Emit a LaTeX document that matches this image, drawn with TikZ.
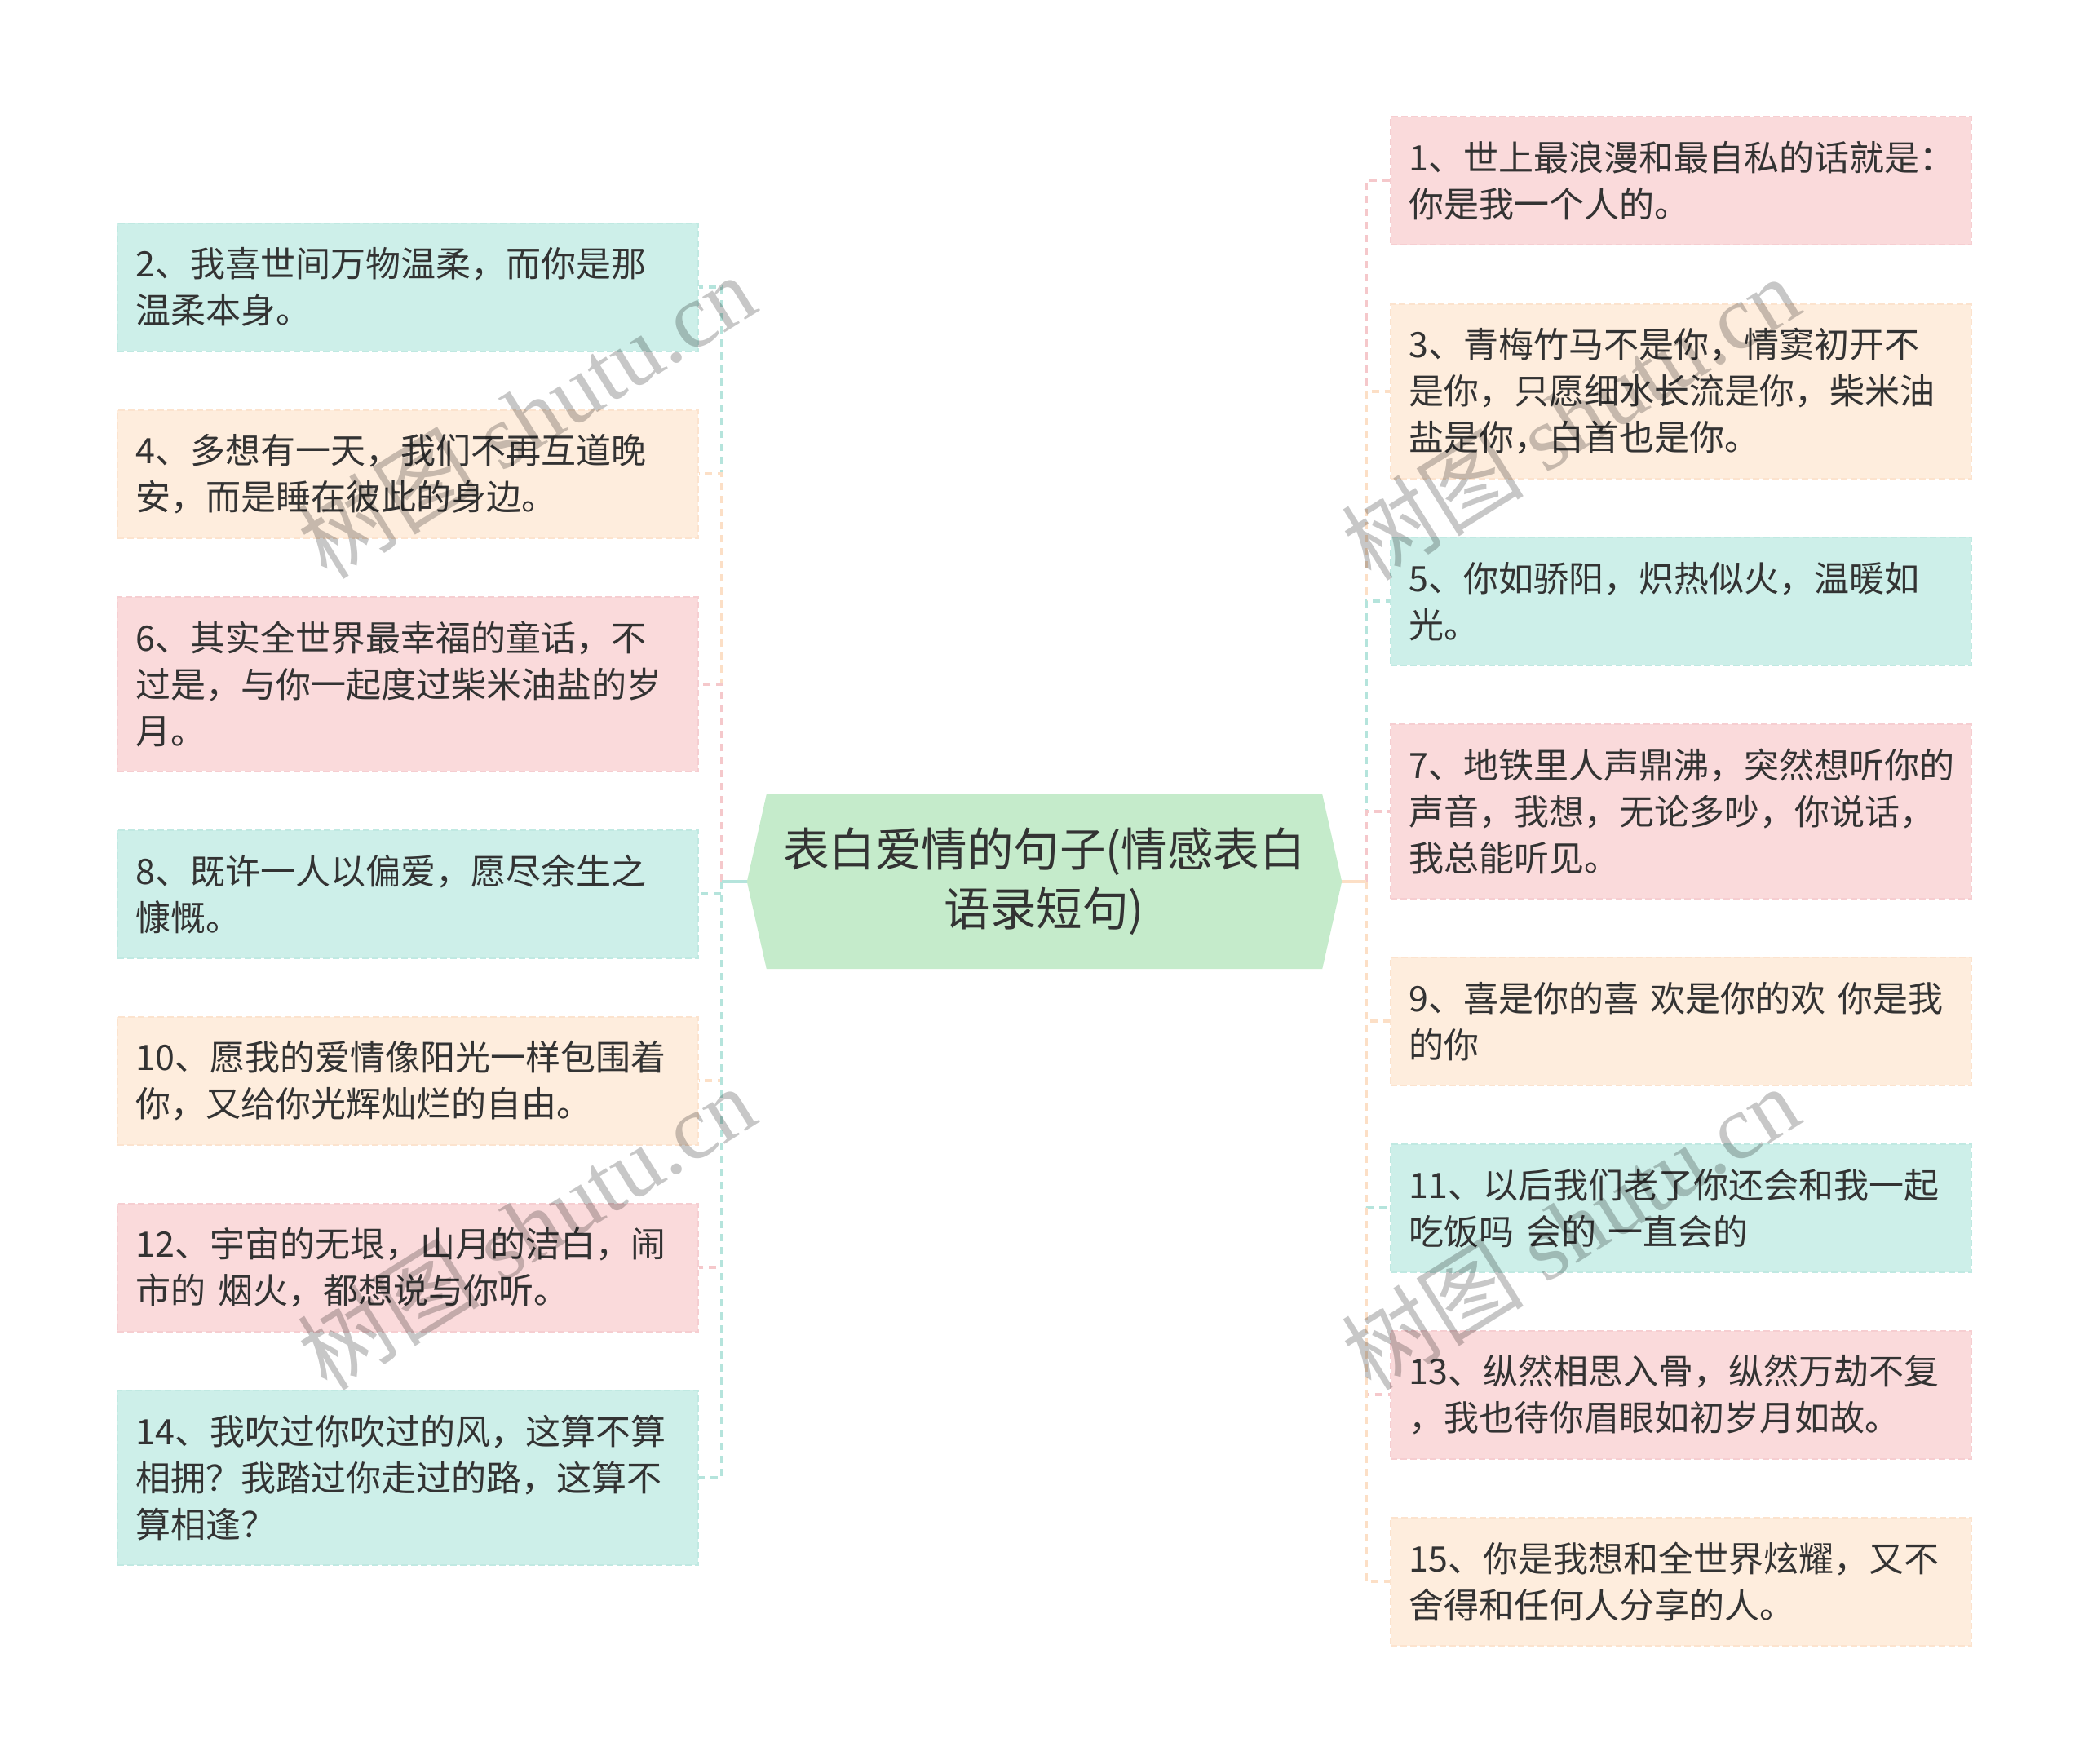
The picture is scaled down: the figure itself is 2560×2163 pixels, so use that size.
\documentclass[tikz,border=0pt]{standalone}
\usepackage{fontspec}
\setmainfont{Noto Sans CJK SC}
\newfontfamily\wmlatin{Liberation Serif}
\usetikzlibrary{backgrounds}
\definecolor{txt}{HTML}{333333}
\definecolor{pinkF}{HTML}{FADADB}
\definecolor{pinkB}{HTML}{F6CED1}
\definecolor{pinkL}{HTML}{F5C8CB}
\definecolor{peachF}{HTML}{FEEDDD}
\definecolor{peachB}{HTML}{FCE3CE}
\definecolor{peachL}{HTML}{FCDFC6}
\definecolor{tealF}{HTML}{CDEFE9}
\definecolor{tealB}{HTML}{C0E9E2}
\definecolor{tealL}{HTML}{B5E4DC}
\definecolor{hexF}{HTML}{C5EBCB}
\begin{document}
\begin{tikzpicture}[x=1pt,y=-1pt,
  leaf/.style={anchor=north west, minimum width=712pt, text width=666pt,
    inner xsep=23pt, inner ysep=0pt, align=left,
    font=\fontsize{43pt}{57pt}\selectfont, text=txt,
    line width=1.5pt, dash pattern=on 8pt off 4pt, minimum height=157pt},
  tall/.style={minimum height=214pt},
  pinkbox/.style={leaf, fill=pinkF, draw=pinkB},
  peachbox/.style={leaf, fill=peachF, draw=peachB},
  tealbox/.style={leaf, fill=tealF, draw=tealB},
  conn/.style={line width=4pt, dash pattern=on 9pt off 7pt},
  root/.style={minimum width=729pt, minimum height=214pt, inner sep=0pt,
    align=center, font=\fontsize{56.5pt}{73pt}\selectfont, text=txt},
  wmark/.style={rotate=32, text=black, text opacity=0.22,
    font=\fontsize{112pt}{112pt}\selectfont, inner sep=0pt}
]
\useasboundingbox (0,0) rectangle (2560,2163);

% central topic
\node[root] (center) at (1280.5,1081) {表白爱情的句子(情感表白\\语录短句)};

% left branch
\node[tealbox]        (b2)  at (143,273)  {2、我喜世间万物温柔，而你是那\\温柔本身。};
\node[peachbox]       (b4)  at (143,502)  {4、多想有一天，我们不再互道晚\\安，而是睡在彼此的身边。};
\node[pinkbox, tall]  (b6)  at (143,731)  {6、其实全世界最幸福的童话，不\\过是，与你一起度过柴米油盐的岁\\月。};
\node[tealbox]        (b8)  at (143,1017) {8、既许一人以偏爱，愿尽余生之\\慷慨。};
\node[peachbox]       (b10) at (143,1246) {10、愿我的爱情像阳光一样包围着\\你，又给你光辉灿烂的自由。};
\node[pinkbox]        (b12) at (143,1475) {12、宇宙的无垠，山月的洁白，闹\\市的 烟火，都想说与你听。};
\node[tealbox, tall]  (b14) at (143,1704) {14、我吹过你吹过的风，这算不算\\相拥？我踏过你走过的路，这算不\\算相逢？};

% right branch
\node[pinkbox]        (b1)  at (1704,142)  {1、世上最浪漫和最自私的话就是：\\你是我一个人的。};
\node[peachbox, tall] (b3)  at (1704,372)  {3、青梅竹马不是你，情窦初开不\\是你，只愿细水长流是你，柴米油\\盐是你，白首也是你。};
\node[tealbox]        (b5)  at (1704,658)  {5、你如骄阳，炽热似火，温暖如\\光。};
\node[pinkbox, tall]  (b7)  at (1704,887)  {7、地铁里人声鼎沸，突然想听你的\\声音，我想，无论多吵，你说话，\\我总能听见。};
\node[peachbox]       (b9)  at (1704,1173) {9、喜是你的喜 欢是你的欢 你是我\\的你};
\node[tealbox]        (b11) at (1704,1402) {11、以后我们老了你还会和我一起\\吃饭吗 会的 一直会的};
\node[pinkbox]        (b13) at (1704,1631) {13、纵然相思入骨，纵然万劫不复\\，我也待你眉眼如初岁月如故。};
\node[peachbox]       (b15) at (1704,1860) {15、你是我想和全世界炫耀，又不\\舍得和任何人分享的人。};

\coordinate (LJ) at (885,1081);
\coordinate (RJ) at (1675,1081);

\begin{scope}[on background layer]
  \draw[conn, tealL]  (LJ) |- (b2.east);
  \draw[conn, peachL] (LJ) |- (b4.east);
  \draw[conn, pinkL]  (LJ) |- (b6.east);
  \draw[conn, tealL]  (LJ) |- (b8.east);
  \draw[conn, peachL] (LJ) |- (b10.east);
  \draw[conn, pinkL]  (LJ) |- (b12.east);
  \draw[conn, tealL]  (LJ) |- (b14.east);
  \draw[conn, pinkL]  (RJ) |- (b1.west);
  \draw[conn, peachL] (RJ) |- (b3.west);
  \draw[conn, tealL]  (RJ) |- (b5.west);
  \draw[conn, pinkL]  (RJ) |- (b7.west);
  \draw[conn, peachL] (RJ) |- (b9.west);
  \draw[conn, tealL]  (RJ) |- (b11.west);
  \draw[conn, pinkL]  (RJ) |- (b13.west);
  \draw[conn, peachL] (RJ) |- (b15.west);
  \draw[tealL, line width=4pt]  (center.west) -- (LJ);
  \draw[peachL, line width=4pt] (center.east) -- (RJ);
  \fill[hexF] (center.west) -- ([xshift=24pt]center.north west)
    -- ([xshift=-24pt]center.north east) -- (center.east)
    -- ([xshift=-24pt]center.south east) -- ([xshift=24pt]center.south west) -- cycle;
\end{scope}

% watermarks
\node[wmark] (wm1) at (645,510)   {树图\wmlatin{} shutu.cn};
\node[wmark] (wm2) at (645,1505)  {树图\wmlatin{} shutu.cn};
\node[wmark] (wm3) at (1925,512)  {树图\wmlatin{} shutu.cn};
\node[wmark] (wm4) at (1925,1505) {树图\wmlatin{} shutu.cn};
\end{tikzpicture}
\end{document}
